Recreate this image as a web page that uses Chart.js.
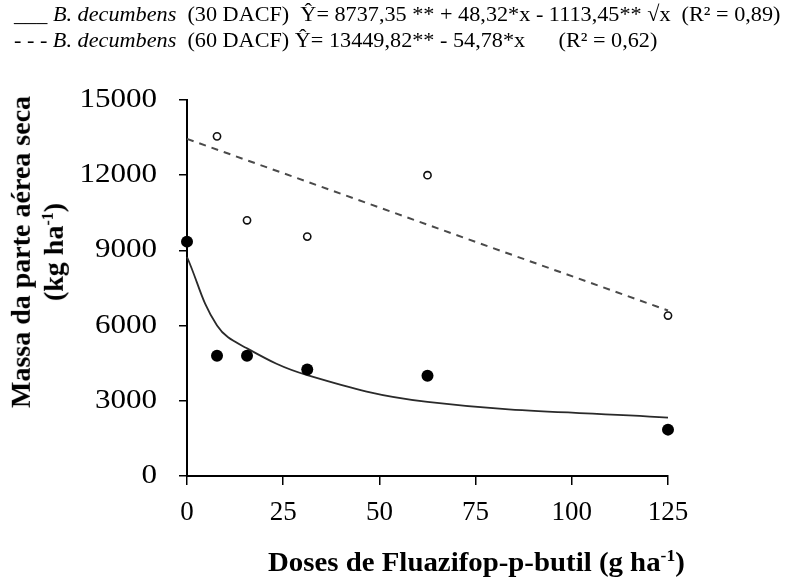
<!DOCTYPE html>
<html>
<head>
<meta charset="utf-8">
<script src="https://cdn.jsdelivr.net/npm/chart.js@4.4.1/dist/chart.umd.min.js"></script>
<style>
  html, body { margin: 0; padding: 0; background: #fff; }
  #wrap { position: relative; width: 792px; height: 588px; overflow: hidden; }
  #chart { position: absolute; left: 0; top: 0; }
  .txt { position: absolute; font-family: "Liberation Serif", "Times New Roman", serif; color: #000; white-space: nowrap; }
  .leg { font-size: 22px; transform-origin: left center; transform: scaleX(1.01); }
  .leg i { font-style: italic; }
  #xtitle { left: 268px; top: 546px; font-size: 28px; font-weight: bold; transform-origin: left center; transform: scaleX(1.03); }
  #ytitle { left: 37px; top: 252px; font-size: 28px; font-weight: bold; text-align: center; line-height: 27px;
            transform: translate(-50%, -50%) rotate(-90deg); }
</style>
</head>
<body>
<div id="wrap">
  <canvas id="chart" width="792" height="588"></canvas>
  <div class="txt leg" style="left:14px; top:1px;">___ <i>B. decumbens</i>&nbsp; (30 DACF)&nbsp; Ŷ= 8737,35 ** + 48,32*x - 1113,45** √x&nbsp; (R² = 0,89)</div>
  <div class="txt leg" style="left:14px; top:27px;">- - - <i>B. decumbens</i>&nbsp; (60 DACF) Ŷ= 13449,82** - 54,78*x&nbsp;&nbsp;&nbsp;&nbsp;&nbsp; (R² = 0,62)</div>
  <div class="txt" id="ytitle">Massa da parte aérea seca<br>(kg ha<sup style="font-size:16px">-1</sup>)</div>
  <div class="txt" id="xtitle">Doses de Fluazifop-p-butil (g ha<sup style="font-size:17px">-1</sup>)</div>
</div>
<script>
/* ======================
   DATA
====================== */
const doses = [0, 7.8, 15.6, 31.25, 62.5, 125]
const massa30 = [9350, 4800, 4800, 4250, 4000, 1850]
const doses60 = [7.8, 15.6, 31.25, 62.5, 125]
const massa60 = [13550, 10200, 9550, 12000, 6400]
const ajuste30 = [8737, 6005, 5093, 4023, 2954, 2329]
const dosesReta60 = [0, 125]
const ajuste60 = [13450, 6602]
const xTicks = [0, 25, 50, 75, 100, 125]
const yTicks = [0, 3000, 6000, 9000, 12000, 15000]

const pts = (xs, ys) => xs.map((x, i) => ({ x, y: ys[i] }))

/* ======================
   Y LABELS STRETCH
====================== */
const stretchY = {
  id: "stretchY",
  beforeDraw(chart) {
    const s = chart.scales.y
    if (s._stretched) return
    const orig = s.drawLabels
    s.drawLabels = function (area) {
      const c = this.ctx
      const x0 = this.right - this.options.grid.tickLength - this.options.ticks.padding
      c.save()
      c.translate(x0, 0)
      c.scale(1.15, 1)
      c.translate(-x0, 0)
      orig.call(this, area)
      c.restore()
    }
    s._stretched = true
  }
}

const serif = "'Liberation Serif', 'Times New Roman', serif"

new Chart(document.getElementById("chart"), {
  type: "scatter",
  data: {
    datasets: [
      {
        label: "30 DACF",
        data: pts(doses, massa30),
        showLine: false,
        clip: false,
        pointRadius: 6,
        pointBackgroundColor: "#000",
        pointBorderColor: "#000",
        pointBorderWidth: 0
      },
      {
        label: "60 DACF",
        data: pts(doses60, massa60),
        showLine: false,
        clip: false,
        pointRadius: 3.6,
        pointBackgroundColor: "#fff",
        pointBorderColor: "#111",
        pointBorderWidth: 1.6
      },
      {
        label: "ajuste 30",
        data: pts(doses, ajuste30),
        showLine: true,
        clip: false,
        tension: 0.4,
        borderColor: "#2a2a2a",
        borderWidth: 1.8,
        pointRadius: 0
      },
      {
        label: "ajuste 60",
        data: pts(dosesReta60, ajuste60),
        showLine: true,
        clip: false,
        borderColor: "#4a4a4a",
        borderWidth: 2,
        borderDash: [7, 6],
        pointRadius: 0
      }
    ]
  },
  options: {
    responsive: false,
    animation: false,
    layout: { padding: { top: 100, right: 124, left: 0, bottom: 0 } },
    plugins: { legend: { display: false }, tooltip: { enabled: false } },
    scales: {
      x: {
        type: "linear",
        min: 0,
        max: 125,
        afterBuildTicks: s => { s.ticks = xTicks.map(v => ({ value: v })) },
        afterFit: s => { s.height = 112 },
        grid: { drawOnChartArea: false, drawTicks: true, tickLength: 9, color: "#000", lineWidth: 1.5 },
        border: { color: "#000", width: 2 },
        ticks: { color: "#000", font: { family: serif, size: 27 }, padding: 12, callback: v => String(v) }
      },
      y: {
        min: 0,
        max: 15000,
        afterBuildTicks: s => { s.ticks = yTicks.map(v => ({ value: v })) },
        afterFit: s => { s.width = 187 },
        grid: { drawOnChartArea: false, drawTicks: true, tickLength: 8, color: "#000", lineWidth: 1.5 },
        border: { color: "#000", width: 2 },
        ticks: { color: "#000", font: { family: serif, size: 27 }, padding: 22, callback: v => String(v) }
      }
    }
  },
  plugins: [stretchY]
})
</script>
</body>
</html>
